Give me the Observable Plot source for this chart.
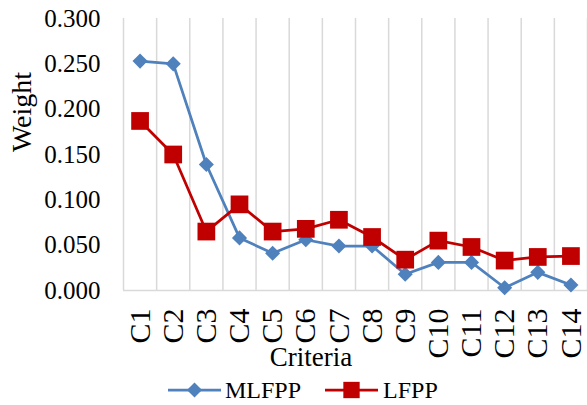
<!DOCTYPE html>
<html><head><meta charset="utf-8">
<script src="https://cdn.jsdelivr.net/npm/d3@7"></script>
<script src="https://cdn.jsdelivr.net/npm/@observablehq/plot@0.6"></script>
<style>
body{margin:0;background:#fff}
#wrap{position:relative;width:587px;height:405px;font-family:"Liberation Serif","Times New Roman",serif;color:#000;overflow:hidden}
#wrap svg{display:block}
#wrap svg text{font-family:"Liberation Serif","Times New Roman",serif !important}
.lbl{position:absolute;white-space:nowrap;line-height:1}
#ylab{left:22px;top:112px;font-size:28px;transform:translate(-50%,-50%) rotate(-90deg)}
#xlab{left:311px;top:344px;font-size:27px;transform:translateX(-50%)}
#legend{position:absolute;left:168px;top:378px;display:flex;align-items:center;font-size:24px;line-height:1}
#legend .item{display:flex;align-items:center}
</style></head><body><div id="wrap"></div>
<script>
const categories = ["C1","C2","C3","C4","C5","C6","C7","C8","C9","C10","C11","C12","C13","C14"];
const mlfpp = [0.253,0.250,0.139,0.058,0.041,0.056,0.049,0.049,0.018,0.031,0.031,0.003,0.020,0.006];
const lfpp  = [0.187,0.150,0.065,0.095,0.065,0.068,0.078,0.059,0.034,0.055,0.048,0.033,0.037,0.038];
const yTicks = [0,0.05,0.10,0.15,0.20,0.25,0.30];
const seriesNames = ["MLFPP","LFPP"];
const seriesColors = ["#4F81BD","#C00000"];
const seriesSymbols = ["diamond2","square"];
const seriesR = [6.8,10];
const serif = '"Liberation Serif","Times New Roman",serif';

const seriesValues = [mlfpp, lfpp];
const rowsOf = k => seriesValues[k].map((v,i)=>({series:seriesNames[k], idx:i+1, value:v}));
const grid = categories.map((c,i)=>i+0.5).concat([categories.length+0.5]);

const marks = [
  Plot.ruleX(grid, {x:d=>d, stroke:"#d9d9d9", strokeWidth:1.5}),
  Plot.ruleY([0], {stroke:"#d9d9d9", strokeWidth:1.5}),
  Plot.axisY({ticks:yTicks, tickFormat:d3.format(".3f"), tickSize:0, tickPadding:23, fontSize:25, fontFamily:serif, label:null}),
  Plot.axisX({ticks:categories.map((c,i)=>i+1), tickFormat:i=>categories[i-1], tickSize:0, tickPadding:18, tickRotate:-90, fontSize:30, fontFamily:serif, label:null})
];
seriesNames.forEach((n,k)=>{
  const rows = rowsOf(k);
  marks.push(Plot.line(rows, {x:"idx", y:"value", stroke:seriesColors[k], strokeWidth:2.75, strokeLinejoin:"round"}));
  marks.push(Plot.dot(rows, {x:"idx", y:"value", symbol:()=>seriesSymbols[k], r:seriesR[k], fill:seriesColors[k], stroke:"none"}));
});

const chart = Plot.plot({
  width:587, height:370,
  marginLeft:123, marginRight:0, marginTop:18, marginBottom:80,
  x:{type:"linear", domain:[0.5, categories.length+0.5]},
  y:{domain:[0,0.3]},
  symbol:{type:"identity"},
  style:{fontFamily:serif, background:"white", color:"black"},
  marks
});
const wrap = document.getElementById("wrap");
wrap.appendChild(chart);

const yl = document.createElement("div"); yl.className="lbl"; yl.id="ylab"; yl.textContent="Weight"; wrap.appendChild(yl);
const xl = document.createElement("div"); xl.className="lbl"; xl.id="xlab"; xl.textContent="Criteria"; wrap.appendChild(xl);

const leg = document.createElement("div"); leg.id="legend";
const swatch = (k) => {
  const s = d3.create("svg").attr("width",53).attr("height",20);
  s.append("line").attr("x1",0).attr("x2",53).attr("y1",10).attr("y2",10).attr("stroke",seriesColors[k]).attr("stroke-width",2.75);
  const sym = k===0 ? d3.symbolDiamond2 : d3.symbolSquare;
  s.append("path").attr("transform","translate(26.5,10)").attr("d", d3.symbol(sym, Math.PI*seriesR[k]*seriesR[k]*(k===0?1:0.85))()).attr("fill",seriesColors[k]);
  return s.node();
};
seriesNames.forEach((n,k)=>{
  const it = document.createElement("div"); it.className="item";
  if (k>0) it.style.marginLeft="24px";
  it.appendChild(swatch(k));
  const t = document.createElement("span"); t.textContent=n; t.style.marginLeft = k===0?"4px":"5px";
  it.appendChild(t);
  leg.appendChild(it);
});
wrap.appendChild(leg);
</script></body></html>
